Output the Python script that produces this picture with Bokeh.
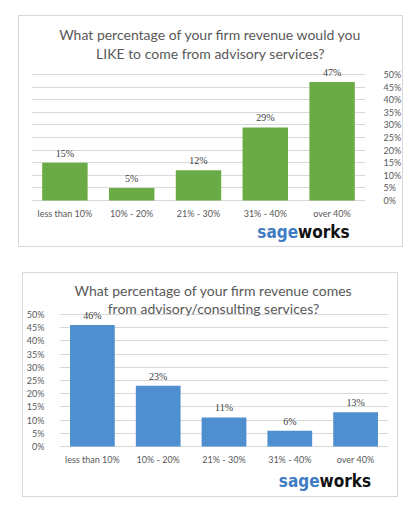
from bokeh.plotting import figure
from bokeh.layouts import column, row
from bokeh.models import (ColumnDataSource, LinearAxis, FixedTicker, Range1d,
                          LabelSet, Spacer, CustomJSTickFormatter)
from bokeh.core.properties import value
from bokeh.embed import file_html
from bokeh.resources import INLINE

categories = ["less than 10%", "10% - 20%", "21% - 30%", "31% - 40%", "over 40%"]
like_values = [15, 5, 12, 29, 47]
actual_values = [46, 23, 11, 6, 13]
tick_values = [0, 5, 10, 15, 20, 25, 30, 35, 40, 45, 50]
title1 = ["What percentage of your firm revenue would you", "LIKE to come from advisory services?"]
title2 = ["What percentage of your firm revenue comes", "from advisory/consulting services?"]
logo_parts = ["sage", "works"]

FONT = "Lato"
GREY = "#595959"
GRID = "#d9d9d9"
LOGO_FONT = "DejaVu Sans Condensed"


def make_chart(values, color, titles, axis_side, w, h, borders, y_range,
               title_dx, title_dy, logo_offset):
    src = ColumnDataSource(dict(cat=categories, val=values,
                                lab=[f"{v}%" for v in values],
                                zero=[0] * len(values)))
    p = figure(x_range=categories, y_range=Range1d(*y_range), width=w, height=h,
               output_backend="svg", toolbar_location=None, tools="",
               min_border_left=borders[0], min_border_right=borders[1],
               min_border_top=borders[2], min_border_bottom=borders[3],
               y_axis_location=None, x_axis_location=None)
    p.styles = {"border": "1px solid #d9d9d9"}
    p.outline_line_color = None
    p.background_fill_color = "white"
    p.border_fill_color = "white"
    p.ygrid.ticker = FixedTicker(ticks=tick_values)
    p.ygrid.grid_line_color = GRID
    p.xgrid.grid_line_color = None
    p.vbar(x="cat", top="val", width=0.68, source=src, fill_color=color, line_color=None)
    p.add_layout(LabelSet(x="cat", y="val", text="lab", source=src, text_align="center",
                          text_baseline="bottom", y_offset=4, text_font=FONT,
                          text_font_size="10px", text_color="#404040"))
    # category labels under the zero line
    p.text(x="cat", y="zero", text="cat", source=src, text_align="center",
           text_baseline="middle", y_offset=13, text_font=value(FONT),
           text_font_size="9px", text_color=GREY)
    yax = LinearAxis(ticker=FixedTicker(ticks=tick_values))
    yax.formatter = CustomJSTickFormatter(code="return tick + '%';")
    yax.axis_line_color = None
    yax.major_tick_line_color = None
    yax.minor_tick_line_color = None
    yax.major_label_text_font = FONT
    yax.major_label_text_font_size = "9px"
    yax.major_label_text_color = GREY
    yax.major_label_standoff = 12 if axis_side == "right" else 9
    p.add_layout(yax, axis_side)
    # two-line title
    mid = categories[2]
    p.text(x=[mid, mid], y=[50, 50], text=titles, x_offset=title_dx,
           y_offset=title_dy, text_align="center", text_baseline="middle",
           text_font=value(FONT), text_font_size="14px", text_color=GREY)
    # logo
    p.text(x=[categories[-1]], y=[0], text=[logo_parts[0]], text_align="right",
           text_baseline="middle", x_offset=logo_offset[0], y_offset=logo_offset[1],
           text_font=value(LOGO_FONT), text_font_style="bold",
           text_font_size="17px", text_color="#3f7cc4")
    p.text(x=[categories[-1]], y=[0], text=[logo_parts[1]], text_align="left",
           text_baseline="middle", x_offset=logo_offset[0], y_offset=logo_offset[1],
           text_font=value(LOGO_FONT), text_font_style="bold",
           text_font_size="17px", text_color="#111111")
    return p


p1 = make_chart(like_values, "#6aab45", title1, "right", 385, 232,
                (12, 36, 2, 2), (-18.25, 72.22), 12, [-40, -21], (-34, 31))
p2 = make_chart(actual_values, "#4f8fd0", title2, "left", 376, 225,
                (33, 11, 2, 2), (-18.94, 64.77), -10.5, [-24, -6], (-36, 35))

layout = column(
    Spacer(height=15),
    row(Spacer(width=18), p1),
    Spacer(height=25),
    row(Spacer(width=22), p2),
    spacing=0,
)
open("out.html", "w").write(file_html(layout, INLINE))
